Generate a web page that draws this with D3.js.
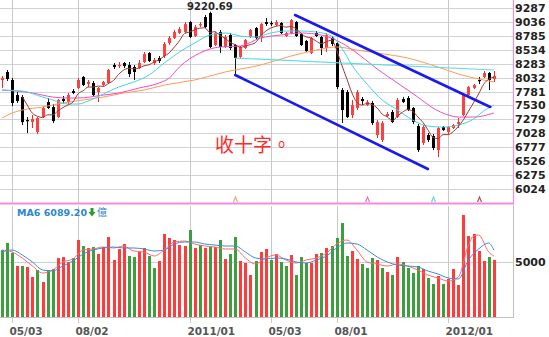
<!DOCTYPE html>
<html><head><meta charset="utf-8">
<script src="https://cdn.jsdelivr.net/npm/d3@7"></script>
<style>
html,body{margin:0;padding:0;background:#fff;overflow:hidden}
svg{display:block}
</style></head><body>
<svg id="c" width="549" height="337"></svg>
<script>
// ---- data (weekly candles) ----
const open = [7989,8133,7989,7718,7682,7267,7231,7051,7321,7592,7502,7321,7646,7592,7790,7844,8043,7916,7935,7772,7898,7935,8259,8241,8295,8259,8223,8205,8313,8475,8295,8385,8421,8656,8746,8836,8854,9034,8782,8980,9124,9197,8620,8854,8584,8800,8620,8403,8566,8764,8926,8764,9034,9016,8980,9016,8782,8836,9034,8818,8692,8475,8836,8764,8566,8746,8656,7808,7772,7358,7484,7646,7538,7574,6997,6907,7340,7412,7321,7646,7664,7484,7159,6853,6997,6979,6726,7141,7051,7123,7195,7358,7718,7844,7989,8043,8115,8007];
const close = [8025,8007,7574,7610,7231,7249,7285,7303,7484,7484,7249,7628,7610,7718,7754,7989,7898,7953,7718,7844,7953,8169,8223,8259,8241,8097,8133,8295,8457,8331,8349,8331,8638,8746,8854,8908,8998,8764,8944,8998,8944,8584,8836,8584,8764,8566,8385,8584,8710,8890,8746,8998,8998,8998,9034,8836,8836,9070,8782,8620,8511,8746,8782,8566,8800,8638,7862,7448,7321,7538,7772,7610,7592,7213,7231,7213,7376,7231,7628,7592,7448,7231,6726,7141,6907,6763,7123,7087,7141,7177,7231,7718,7862,7898,7971,8115,7989,8061];
const high = [8061,8169,8025,7772,7718,7321,7358,7321,7520,7664,7556,7646,7700,7754,7826,8025,8061,7989,7971,7862,7971,8187,8295,8313,8313,8313,8259,8349,8493,8493,8385,8421,8674,8782,8890,8944,9034,9052,8980,9034,9161,9220.69,8854,8890,8800,8836,8638,8602,8728,8908,8944,9016,9106,9052,9070,9034,8854,9088,9052,8836,8710,8764,8872,8782,8836,8782,8674,7844,7808,7628,7808,7682,7628,7610,7267,7249,7412,7448,7664,7682,7700,7502,7195,7177,7033,7015,7141,7159,7159,7195,7303,7736,7880,7916,8043,8151,8133,8151];
const low = [7844,7971,7520,7574,7177,7033,7123,7015,7303,7466,7213,7303,7556,7556,7736,7826,7880,7862,7700,7592,7880,7916,8187,8205,8205,8043,7989,8187,8295,8313,8259,8295,8385,8620,8728,8818,8836,8746,8764,8944,8926,8566,8602,8475,8566,8529,8079,8385,8548,8746,8728,8674,8962,8962,8962,8818,8764,8818,8764,8602,8493,8457,8764,8439,8493,8602,7826,7213,7303,7303,7448,7538,7520,7177,6943,6871,7321,7213,7303,7574,7430,7195,6690,6817,6871,6726,6600,7069,7015,7105,7123,7340,7700,7826,7916,8025,7808,7953];
// weekly volume (億) and bar colour (1 = red / up, 0 = green / down)
const volume = [6090,6730,5820,4640,4640,4550,3640,4270,3180,4270,4360,5360,5450,5000,5360,7000,6450,6270,6360,5730,6360,7270,5180,6180,6640,5550,5450,5910,6270,5550,4450,5090,7550,7180,7000,6545,6455,7909,6273,6545,6273,6364,6364,7000,5273,5727,7273,5091,4909,3818,5091,5909,6182,5182,5727,5000,4636,5636,3818,5455,4909,4909,5727,5818,6273,6455,7182,8545,5545,6000,5273,4818,4455,5364,5182,4455,4091,3818,5455,5000,4455,4000,4636,4364,3545,3000,3727,3000,3455,4364,2909,9273,7364,7545,6000,5091,5455,5182];
const volUp = [0,0,0,1,0,1,1,0,1,0,0,1,1,1,0,1,0,1,0,1,1,1,1,1,1,0,0,1,1,0,0,1,1,1,1,1,1,0,1,0,1,0,1,0,1,0,0,1,1,1,0,1,1,0,1,0,0,1,0,0,0,1,1,0,1,0,0,0,0,1,1,0,0,0,1,0,1,0,1,0,0,0,0,1,0,0,1,0,1,1,1,1,1,1,1,1,0,1];
// moving averages
const ma5 = [null,null,null,null,7689,7534,7390,7336,7311,7361,7361,7430,7491,7538,7592,7740,7794,7862,7862,7880,7873,7927,7981,8090,8169,8198,8191,8205,8245,8263,8313,8353,8421,8479,8584,8695,8829,8854,8894,8923,8930,8847,8861,8789,8742,8667,8627,8576,8602,8627,8663,8786,8868,8926,8955,8973,8941,8955,8912,8829,8764,8746,8688,8645,8681,8706,8530,8263,8014,7761,7588,7538,7567,7545,7484,7372,7325,7253,7336,7408,7455,7426,7325,7228,7091,6954,6932,7004,7004,7058,7152,7271,7426,7578,7736,7913,8003,8043];
const ma10At = [0,4,8,10,13,15,17,20,23,26,29,32,35,38,41,44,47,50,53,56,59,62,65,67,69,72,75,78,81,84,87,90,93,95,97];
const ma10 = [7808,7790,7682,7628,7556,7556,7610,7736,7862,7953,8079,8295,8493,8656,8800,8836,8782,8764,8836,8872,8872,8854,8782,8566,8259,7916,7628,7448,7267,7159,7141,7177,7285,7430,7538];
const ma20At = [0,6,10,13,15,20,23,27,31,33,35,39,43,47,51,55,59,63,67,70,74,78,82,85,88,90,93,97];
const ma20 = [7808,7754,7682,7664,7664,7718,7754,7844,7935,8025,8223,8475,8584,8602,8746,8800,8836,8800,8656,8475,8187,7935,7682,7484,7358,7321,7321,7394];
const ma60At = [0,2,4,8,12,16,20,24,28,32,38,44,51,57,62,66,70,74,80,86,90,94,97];
const ma60 = [7303,7394,7448,7502,7574,7628,7682,7754,7808,7898,7989,8133,8259,8421,8529,8584,8529,8475,8385,8223,8097,8007,7953];
const volMaAt = [0,2,4,6,8,10,12,14,16,18,20,22,24,26,28,30,32,34,36,38,40,42,44,46,48,50,52,54,56,58,60,62,64,66,68,70,72,74,76,78,80,82,84,86,88,90,92,94,96,97];
const volMa6 = [5909,6091,5636,5000,4273,4182,4636,5091,5727,6091,6273,6364,6273,6273,6182,6000,6091,6636,6818,6818,6636,6545,6455,6455,5909,5364,5273,5364,5273,5000,4909,5182,5545,6273,6727,6636,6091,5455,5000,4727,4636,4545,4182,3909,3545,3455,5182,6182,6727,6089];
const volMaRedAt = [0,2,4,6,8,10,12,14,16,18,20,22,24,26,28,30,32,34,36,38,40,42,44,46,48,50,52,54,56,58,60,62,64,66,68,70,72,74,76,78,80,82,84,86,88,90,92,93,94,96,97];
const volMaRed = [6091,5909,5364,4636,4000,4273,5000,5273,6091,6182,6364,6273,6455,6000,5909,5545,6091,6818,6909,6636,6455,6364,6182,6182,5364,4818,5364,5636,5182,4909,5182,5364,5818,6636,7000,6091,5000,4818,4636,4818,4636,4273,3818,3545,3273,3636,6545,7364,7455,5909,5545];
// axes
const priceTicks = [9287,9036,8785,8534,8283,8032,7781,7530,7279,7028,6777,6526,6275,6024];
const dateIdx = [2,15,37,53,66,88];
const dateLabels = ["05/03","08/02","2011/01","05/03","08/01","2012/01"];
const volTicks = [5000];
// annotations (index, price)
const channelUpper = [[57.8,9161],[96.3,7502]];
const channelLower = [[46,8079],[84,6384]];
const cyanTrend = [[46,8385],[97,8169]];
const signalIdx = [46,72,85,94];
const signalColor = ["#f4a070","#f070c8","#5fd8e0","#b05050"];
const highLabel = {i:41, v:9220.69, text:"9220.69"};
const note = {i:42, v:6690, text:"收十字。"};
const volLegend = {name:"MA6", value:"6089.20", unit:"億"};

// ---- drawing ----
const svg = d3.select('#c');
const N = close.length;
const x = d3.scaleLinear().domain([0, N-1]).range([2, 493.8]);
const y = d3.scaleLinear().domain([6024, 9287]).range([189, 8]);
const yv = d3.scaleLinear().domain([0, 10000]).range([317, 207]);
const R = 513; // right edge of plot
const px = i => Math.round(x(i));

svg.append('rect').attr('width',549).attr('height',337).attr('fill','#fff');

// grid
const g = svg.append('g');
g.selectAll('.hg').data(priceTicks).join('line')
  .attr('x1',0).attr('x2',R).attr('y1',d=>Math.round(y(d))+0.5).attr('y2',d=>Math.round(y(d))+0.5)
  .attr('stroke','#d2d2d2').attr('stroke-width',1);
g.selectAll('.vg').data(dateIdx).join('line')
  .attr('x1',d=>px(d)+0.5).attr('x2',d=>px(d)+0.5).attr('y1',0).attr('y2',203)
  .attr('stroke','#c8c8c8');
g.selectAll('.vg2').data(dateIdx).join('line')
  .attr('x1',d=>px(d)+0.5).attr('x2',d=>px(d)+0.5).attr('y1',206).attr('y2',323)
  .attr('stroke','#c8c8c8');
g.selectAll('.vh').data(volTicks).join('line')
  .attr('x1',0).attr('x2',R).attr('y1',d=>Math.round(yv(d))+0.5).attr('y2',d=>Math.round(yv(d))+0.5)
  .attr('stroke','#cfcfcf');

// candles
const cg = svg.append('g');
const idx = d3.range(N);
cg.selectAll('.wick').data(idx).join('line')
  .attr('x1',i=>px(i)+0.5).attr('x2',i=>px(i)+0.5)
  .attr('y1',i=>y(high[i])).attr('y2',i=>y(low[i]))
  .attr('stroke',i=>close[i]>=open[i]?'#ee2a2a':'#111').attr('stroke-width',1);
cg.selectAll('.body').data(idx).join('rect')
  .attr('x',i=>px(i)-1).attr('width',3)
  .attr('y',i=>y(Math.max(open[i],close[i])))
  .attr('height',i=>Math.max(1.2, Math.abs(y(open[i])-y(close[i]))))
  .attr('fill',i=>close[i]>=open[i]?'#ff4040':'#000');

// moving average lines
function drawLine(at, vals, color, sc, w){
  const pts = at.map((a,k)=>[a, vals[k]]).filter(p=>p[1]!=null);
  svg.append('path').datum(pts)
    .attr('d', d3.line().x(p=>x(p[0])).y(p=>sc(p[1])).curve(d3.curveMonotoneX))
    .attr('fill','none').attr('stroke',color).attr('stroke-width',w||1);
}
drawLine(ma60At, ma60, '#ff9a5c', y);
drawLine(ma20At, ma20, '#f24cc4', y);
drawLine(ma10At, ma10, '#44d6dc', y);
drawLine(idx, ma5, '#9e3a34', y);

// trend annotations
svg.append('line').attr('x1',x(cyanTrend[0][0])).attr('y1',y(cyanTrend[0][1]))
  .attr('x2',x(cyanTrend[1][0])).attr('y2',y(cyanTrend[1][1]))
  .attr('stroke','#5cdde2').attr('stroke-width',1.2);
[channelUpper, channelLower].forEach(c=>{
  svg.append('line').attr('x1',x(c[0][0])).attr('y1',y(c[0][1]))
    .attr('x2',x(c[1][0])).attr('y2',y(c[1][1]))
    .attr('stroke','#1a1aee').attr('stroke-width',2.6).attr('stroke-linecap','round');
});

// signal markers
svg.selectAll('.sig').data(signalIdx).join('path')
  .attr('d',d=>{const cx=px(d)+0.5; return `M${cx-2},202 L${cx},197 L${cx+2},202`;})
  .attr('fill','none').attr('stroke',(d,k)=>signalColor[k]).attr('stroke-width',1.2);

// high label
svg.append('text').attr('x',x(highLabel.i)).attr('y',y(highLabel.v)-1.5)
  .attr('text-anchor','middle').attr('font-family','DejaVu Sans').attr('font-weight','bold')
  .attr('font-size',10).attr('fill','#2a2a2a').text(highLabel.text);

// note
svg.append('text').attr('x',x(note.i)).attr('y',y(note.v))
  .attr('font-family','Noto Sans CJK TC').attr('font-size',19).attr('fill','#ff2a2a').text(note.text);

// panel borders
svg.append('line').attr('x1',R+0.5).attr('x2',R+0.5).attr('y1',0).attr('y2',204).attr('stroke','#f08ce0').attr('stroke-width',1.2);
svg.append('line').attr('x1',0).attr('x2',R+1).attr('y1',203.5).attr('y2',203.5).attr('stroke','#f08ce0').attr('stroke-width',2);
svg.append('line').attr('x1',R+0.5).attr('x2',R+0.5).attr('y1',205).attr('y2',318).attr('stroke','#c0c0c0');
svg.append('line').attr('x1',0).attr('x2',R+1).attr('y1',317.5).attr('y2',317.5).attr('stroke','#c0c0c0');

// volume bars
svg.append('g').selectAll('rect').data(idx).join('rect')
  .attr('x',i=>px(i)-1).attr('width',3)
  .attr('y',i=>yv(volume[i])).attr('height',i=>317-yv(volume[i]))
  .attr('fill',i=>volUp[i]?'#ff3c3c':'#3c9e3c');

drawLine(volMaRedAt, volMaRed, '#ff6a6a', yv);
drawLine(volMaAt, volMa6, '#3b8fd8', yv);

// right price axis
const ay = d3.axisRight(y).tickValues(priceTicks).tickFormat(d3.format('d')).tickSize(0).tickPadding(2);
svg.append('g').attr('transform',`translate(${R},0)`).call(ay)
  .call(s=>s.select('.domain').remove())
  .selectAll('text').attr('font-family','DejaVu Sans').attr('font-weight','bold')
  .attr('font-size',11).attr('fill','#222');
const av = d3.axisRight(yv).tickValues(volTicks).tickFormat(d3.format('d')).tickSize(0).tickPadding(2);
svg.append('g').attr('transform',`translate(${R},0)`).call(av)
  .call(s=>s.select('.domain').remove())
  .selectAll('text').attr('font-family','DejaVu Sans').attr('font-weight','bold')
  .attr('font-size',11).attr('fill','#222');

// bottom date axis
svg.append('g').selectAll('text').data(dateIdx).join('text')
  .attr('x',d=>px(d)-2.5).attr('y',335)
  .attr('font-family','DejaVu Sans').attr('font-weight','bold').attr('font-size',10.5)
  .attr('fill','#555').text((d,k)=>dateLabels[k]);

// volume legend
svg.append('text').attr('x',17).attr('y',216)
  .attr('font-family','DejaVu Sans').attr('font-weight','bold').attr('font-size',9.5)
  .attr('textLength',70).attr('lengthAdjust','spacingAndGlyphs')
  .attr('fill','#2e86d0').text(volLegend.name+' '+volLegend.value);
svg.append('path').attr('d','M90.5,208 h3 v4 h2 l-3.5,4.5 l-3.5,-4.5 h2 z').attr('fill','#2e9a2e');
svg.append('text').attr('x',97).attr('y',216).attr('font-family','Noto Sans CJK TC')
  .attr('font-size',10).attr('fill','#2e86d0').text(volLegend.unit);
</script>
</body></html>
